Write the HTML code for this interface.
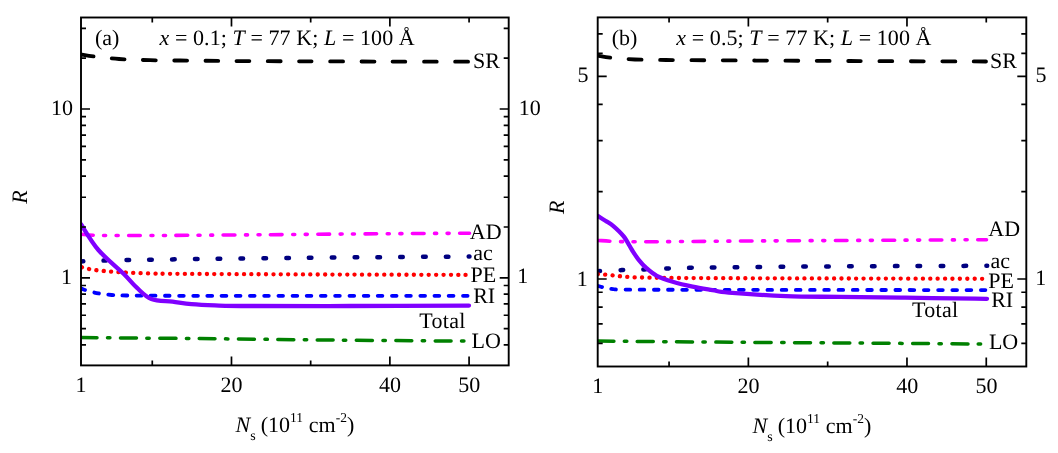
<!DOCTYPE html>
<html><head><meta charset="utf-8"><title>R vs Ns</title>
<style>
html,body{margin:0;padding:0;background:#fff;}
body{width:1058px;height:453px;overflow:hidden;font-family:"Liberation Serif",serif;}
svg{display:block;will-change:transform;}
svg text{text-rendering:geometricPrecision;font-family:"Liberation Serif",serif;font-size:22px;fill:#000;}
</style></head><body>
<svg width="1058" height="453" viewBox="0 0 1058 453">
<rect width="1058" height="453" fill="#fff"/>
<clipPath id="clipa"><rect x="81" y="17.5" width="427.7" height="347.9"/></clipPath>
<g clip-path="url(#clipa)">
<path d="M81.00,54.50 C83.33,54.85 88.67,55.85 95.00,56.60 C101.33,57.35 109.83,58.40 119.00,59.00 C128.17,59.60 138.17,59.93 150.00,60.20 C161.83,60.47 176.33,60.47 190.00,60.60 C203.67,60.73 213.67,60.88 232.00,61.00 C250.33,61.12 273.67,61.20 300.00,61.30 C326.33,61.40 361.75,61.53 390.00,61.60 C418.25,61.67 456.25,61.68 469.50,61.70" fill="none" stroke="#000" stroke-width="3.8" stroke-linecap="round" stroke-linejoin="round" stroke-dasharray="12.8 18.4"/>
<path d="M81.00,234.20 C84.17,234.40 88.50,235.18 100.00,235.40 C111.50,235.62 128.00,235.57 150.00,235.50 C172.00,235.43 198.67,235.25 232.00,235.00 C265.33,234.75 310.42,234.30 350.00,234.00 C389.58,233.70 449.58,233.33 469.50,233.20" fill="none" stroke="#ff00ff" stroke-width="3.6" stroke-linecap="round" stroke-linejoin="round" stroke-dasharray="11.6 10.55 2 10.55 2 10.54" stroke-dashoffset="-0.7"/>
<path d="M81.00,261.40 C87.50,261.20 100.17,260.60 120.00,260.20 C139.83,259.80 170.00,259.40 200.00,259.00 C230.00,258.60 266.67,258.13 300.00,257.80 C333.33,257.47 371.75,257.20 400.00,257.00 C428.25,256.80 457.92,256.67 469.50,256.60" fill="none" stroke="#000080" stroke-width="4.5" stroke-linecap="round" stroke-linejoin="round" stroke-dasharray="2.6 20.2"/>
<path d="M81.90,267.20 C83.00,267.48 86.23,268.42 88.50,268.90 C90.77,269.38 93.08,269.77 95.50,270.10 C97.92,270.43 100.53,270.65 103.00,270.90 C105.47,271.15 107.82,271.40 110.30,271.60 C112.78,271.80 115.40,271.95 117.90,272.10 C120.40,272.25 122.85,272.37 125.30,272.50 C127.75,272.63 130.15,272.78 132.60,272.90 C135.05,273.02 137.53,273.12 140.00,273.20 C142.47,273.28 144.93,273.33 147.40,273.40 C149.87,273.47 151.08,273.53 154.80,273.60 C158.52,273.67 153.83,273.70 169.70,273.80 C185.57,273.90 219.95,274.07 250.00,274.20 C280.05,274.33 313.42,274.48 350.00,274.60 C386.58,274.72 449.58,274.85 469.50,274.90" fill="none" stroke="#ff0000" stroke-width="4.3" stroke-linecap="round" stroke-linejoin="round" stroke-dasharray="0.1 7.285"/>
<path d="M81.00,288.40 C81.92,288.73 83.60,289.57 86.50,290.40 C89.40,291.23 94.20,292.63 98.40,293.40 C102.60,294.17 107.10,294.65 111.70,295.00 C116.30,295.35 111.28,295.37 126.00,295.50 C140.72,295.63 142.75,295.75 200.00,295.80 C257.25,295.85 424.58,295.80 469.50,295.80" fill="none" stroke="#0000ff" stroke-width="3.8" stroke-linecap="round" stroke-linejoin="round" stroke-dasharray="4.65 9.525" stroke-dashoffset="0.15"/>
<path d="M81.00,224.30 C83.90,228.58 91.30,241.75 98.40,250.00 C105.50,258.25 117.20,267.52 123.60,273.80 C130.00,280.08 132.17,283.50 136.80,287.70 C141.43,291.90 145.43,296.67 151.40,299.00 C157.37,301.33 165.92,300.83 172.60,301.70 C179.28,302.57 184.43,303.58 191.50,304.20 C198.57,304.82 205.25,305.10 215.00,305.40 C224.75,305.70 227.50,305.90 250.00,306.00 C272.50,306.10 313.50,306.07 350.00,306.00 C386.50,305.93 449.17,305.67 469.00,305.60" fill="none" stroke="#8000ff" stroke-width="4.3" stroke-linecap="round" stroke-linejoin="round"/>
<path d="M81.00,337.60 C100.83,337.77 157.67,338.18 200.00,338.60 C242.33,339.02 290.83,339.68 335.00,340.10 C379.17,340.52 443.33,340.93 465.00,341.10" fill="none" stroke="#008000" stroke-width="3.5" stroke-linecap="round" stroke-linejoin="round" stroke-dasharray="16 10.45 2.4 10.45" stroke-dashoffset="-0.3"/>
</g>
<rect x="81" y="17.5" width="427.7" height="347.9" fill="none" stroke="#000" stroke-width="1.9"/>
<path d="M152.28,365.4 v-5 M152.28,17.5 v5 M231.48,365.4 v-9 M231.48,17.5 v9 M310.68,365.4 v-5 M310.68,17.5 v5 M389.88,365.4 v-9 M389.88,17.5 v9 M469.08,365.4 v-9 M469.08,17.5 v5 M81,344.97 h5 M508.7,344.97 h-5 M81,328.61 h5 M508.7,328.61 h-5 M81,315.25 h5 M508.7,315.25 h-5 M81,303.95 h5 M508.7,303.95 h-5 M81,294.16 h5 M508.7,294.16 h-5 M81,285.52 h5 M508.7,285.52 h-5 M81,277.80 h9 M508.7,277.80 h-9 M81,226.99 h5 M508.7,226.99 h-5 M81,197.26 h5 M508.7,197.26 h-5 M81,176.17 h5 M508.7,176.17 h-5 M81,159.81 h5 M508.7,159.81 h-5 M81,146.45 h5 M508.7,146.45 h-5 M81,135.15 h5 M508.7,135.15 h-5 M81,125.36 h5 M508.7,125.36 h-5 M81,116.72 h5 M508.7,116.72 h-5 M81,109.00 h9 M508.7,109.00 h-9 M81,58.19 h5 M508.7,58.19 h-5 M81,28.46 h5 M508.7,28.46 h-5" fill="none" stroke="#000" stroke-width="1.7"/>
<text x="95" y="44.8" text-anchor="start" >(a)</text>
<text x="159.5" y="44.8" text-anchor="start" xml:space="preserve" letter-spacing="0.08"><tspan font-style="italic">x</tspan> = 0.1; <tspan font-style="italic">T</tspan> = 77 K; <tspan font-style="italic">L</tspan> = 100 Å</text>
<text x="73" y="115.2" text-anchor="end" >10</text>
<text x="72" y="284" text-anchor="end" >1</text>
<text x="518.8" y="115.2" text-anchor="start" >10</text>
<text x="517.3" y="283.1" text-anchor="start" >1</text>
<text x="473" y="67.6" text-anchor="start" >SR</text>
<text x="469.8" y="238.9" text-anchor="start" >AD</text>
<text x="473.2" y="260.3" text-anchor="start" >ac</text>
<text x="470.5" y="281.8" text-anchor="start" >PE</text>
<text x="473.2" y="303" text-anchor="start" >RI</text>
<text x="419.3" y="327.5" text-anchor="start" letter-spacing="0.3">Total</text>
<text x="471.6" y="348.2" text-anchor="start" >LO</text>
<text x="81" y="391.5" text-anchor="middle" >1</text>
<text x="231.6" y="391.5" text-anchor="middle" >20</text>
<text x="389.9" y="391.5" text-anchor="middle" >40</text>
<text x="469.2" y="391.5" text-anchor="middle" >50</text>
<text x="235.5" y="431.8" text-anchor="start" xml:space="preserve"><tspan font-style="italic">N</tspan><tspan font-size="14" dy="8.2">s</tspan><tspan dy="-8.2" dx="-0.5"> (10</tspan><tspan font-size="13.5" dy="-10">11</tspan><tspan dy="10" dx="0.3"> cm</tspan><tspan font-size="13.5" dy="-10">-2</tspan><tspan dy="10">)</tspan></text>
<text x="0" y="0" text-anchor="start" font-style="italic" transform="translate(27.2,203.8) rotate(-90)">R</text>
<clipPath id="clipb"><rect x="597.7" y="17.4" width="428.5999999999999" height="349.1"/></clipPath>
<g clip-path="url(#clipb)">
<path d="M597.70,55.60 C600.13,55.98 606.08,57.25 612.30,57.90 C618.52,58.55 626.05,59.15 635.00,59.50 C643.95,59.85 646.83,59.83 666.00,60.00 C685.17,60.17 719.33,60.33 750.00,60.50 C780.67,60.67 810.67,60.83 850.00,61.00 C889.33,61.17 963.33,61.42 986.00,61.50" fill="none" stroke="#000" stroke-width="3.8" stroke-linecap="round" stroke-linejoin="round" stroke-dasharray="12.8 18.55"/>
<path d="M597.70,240.40 C601.42,240.60 609.62,241.38 620.00,241.60 C630.38,241.82 638.33,241.80 660.00,241.70 C681.67,241.60 710.00,241.25 750.00,241.00 C790.00,240.75 860.58,240.42 900.00,240.20 C939.42,239.98 972.08,239.78 986.50,239.70" fill="none" stroke="#ff00ff" stroke-width="3.6" stroke-linecap="round" stroke-linejoin="round" stroke-dasharray="11.6 10.6 2 10.6 2 10.6" stroke-dashoffset="-0.7"/>
<path d="M597.70,271.20 C601.70,271.02 613.95,270.40 621.70,270.10 C629.45,269.80 636.58,269.67 644.20,269.40 C651.82,269.13 659.72,268.77 667.40,268.50 C675.08,268.23 682.68,267.98 690.30,267.80 C697.92,267.62 694.82,267.60 713.10,267.40 C731.38,267.20 768.85,266.82 800.00,266.60 C831.15,266.38 868.80,266.23 900.00,266.10 C931.20,265.97 972.67,265.85 987.20,265.80" fill="none" stroke="#000080" stroke-width="4.5" stroke-linecap="round" stroke-linejoin="round" stroke-dasharray="2.6 20.26"/>
<path d="M597.80,274.20 C598.92,274.27 602.10,274.40 604.50,274.60 C606.90,274.80 609.67,275.13 612.20,275.40 C614.73,275.67 617.23,275.95 619.70,276.20 C622.17,276.45 624.57,276.72 627.00,276.90 C629.43,277.08 631.82,277.20 634.30,277.30 C636.78,277.40 639.40,277.43 641.90,277.50 C644.40,277.57 646.82,277.65 649.30,277.70 C651.78,277.75 648.35,277.73 656.80,277.80 C665.25,277.87 676.13,278.00 700.00,278.10 C723.87,278.20 752.25,278.28 800.00,278.40 C847.75,278.52 955.42,278.73 986.50,278.80" fill="none" stroke="#ff0000" stroke-width="4.3" stroke-linecap="round" stroke-linejoin="round" stroke-dasharray="0.1 7.289"/>
<path d="M597.70,285.80 C598.92,286.13 602.45,287.25 605.00,287.80 C607.55,288.35 609.67,288.80 613.00,289.10 C616.33,289.40 610.50,289.48 625.00,289.60 C639.50,289.72 639.67,289.72 700.00,289.80 C760.33,289.88 939.17,290.05 987.00,290.10" fill="none" stroke="#0000ff" stroke-width="3.8" stroke-linecap="round" stroke-linejoin="round" stroke-dasharray="4.65 9.55" stroke-dashoffset="0.15"/>
<path d="M597.70,215.90 C598.98,216.72 602.83,219.15 605.40,220.80 C607.97,222.45 610.05,223.20 613.10,225.80 C616.15,228.40 620.55,232.37 623.70,236.40 C626.85,240.43 629.57,246.18 632.00,250.00 C634.43,253.82 635.93,256.32 638.30,259.30 C640.67,262.28 643.12,265.15 646.20,267.90 C649.28,270.65 652.38,273.48 656.80,275.80 C661.22,278.12 666.73,279.98 672.70,281.80 C678.67,283.62 685.97,285.32 692.60,286.70 C699.23,288.08 706.48,289.12 712.50,290.10 C718.52,291.08 716.45,291.60 728.70,292.60 C740.95,293.60 767.45,295.38 786.00,296.10 C804.55,296.82 820.17,296.63 840.00,296.90 C859.83,297.17 882.50,297.42 905.00,297.70 C927.50,297.98 961.33,298.42 975.00,298.60 C988.67,298.78 985.00,298.77 987.00,298.80" fill="none" stroke="#8000ff" stroke-width="4.3" stroke-linecap="round" stroke-linejoin="round"/>
<path d="M597.70,341.00 C614.75,341.17 657.95,341.67 700.00,342.00 C742.05,342.33 803.00,342.67 850.00,343.00 C897.00,343.33 960.00,343.83 982.00,344.00" fill="none" stroke="#008000" stroke-width="3.5" stroke-linecap="round" stroke-linejoin="round" stroke-dasharray="16 10.45 2.4 10.45" stroke-dashoffset="-0.3"/>
</g>
<rect x="597.7" y="17.4" width="428.5999999999999" height="349.1" fill="none" stroke="#000" stroke-width="1.9"/>
<path d="M669.07,366.5 v-5 M669.07,17.4 v5 M748.37,366.5 v-9 M748.37,17.4 v9 M827.67,366.5 v-5 M827.67,17.4 v5 M906.97,366.5 v-9 M906.97,17.4 v9 M986.27,366.5 v-9 M986.27,17.4 v5 M597.7,343.34 h5 M1026.3,343.34 h-5 M597.7,323.92 h5 M1026.3,323.92 h-5 M597.7,307.10 h5 M1026.3,307.10 h-5 M597.7,292.27 h5 M1026.3,292.27 h-5 M597.7,279.00 h9 M1026.3,279.00 h-9 M597.7,191.70 h5 M1026.3,191.70 h-5 M597.7,140.63 h5 M1026.3,140.63 h-5 M597.7,104.40 h5 M1026.3,104.40 h-5 M597.7,76.30 h9 M1026.3,76.30 h-9 M597.7,53.34 h5 M1026.3,53.34 h-5 M597.7,33.92 h5 M1026.3,33.92 h-5" fill="none" stroke="#000" stroke-width="1.7"/>
<text x="611.8" y="44.6" text-anchor="start" >(b)</text>
<text x="676.3" y="44.6" text-anchor="start" xml:space="preserve" letter-spacing="0.08"><tspan font-style="italic">x</tspan> = 0.5; <tspan font-style="italic">T</tspan> = 77 K; <tspan font-style="italic">L</tspan> = 100 Å</text>
<text x="588.5" y="82.4" text-anchor="end" >5</text>
<text x="587.7" y="285.5" text-anchor="end" >1</text>
<text x="1035.6" y="82.4" text-anchor="start" >5</text>
<text x="1035.3" y="285.1" text-anchor="start" >1</text>
<text x="989.9" y="67.6" text-anchor="start" >SR</text>
<text x="988.3" y="236.2" text-anchor="start" >AD</text>
<text x="990.5" y="268.3" text-anchor="start" >ac</text>
<text x="988.2" y="287.5" text-anchor="start" >PE</text>
<text x="991.2" y="306.7" text-anchor="start" >RI</text>
<text x="912" y="317" text-anchor="start" letter-spacing="0.3">Total</text>
<text x="988.9" y="349.3" text-anchor="start" >LO</text>
<text x="597.7" y="392.7" text-anchor="middle" >1</text>
<text x="748.5" y="392.7" text-anchor="middle" >20</text>
<text x="907.3" y="392.7" text-anchor="middle" >40</text>
<text x="986.5" y="392.7" text-anchor="middle" >50</text>
<text x="752.5" y="432.8" text-anchor="start" xml:space="preserve"><tspan font-style="italic">N</tspan><tspan font-size="14" dy="8.2">s</tspan><tspan dy="-8.2" dx="-0.5"> (10</tspan><tspan font-size="13.5" dy="-10">11</tspan><tspan dy="10" dx="0.3"> cm</tspan><tspan font-size="13.5" dy="-10">-2</tspan><tspan dy="10">)</tspan></text>
<text x="0" y="0" text-anchor="start" font-style="italic" transform="translate(564.1,213.9) rotate(-90)">R</text>
</svg>
</body></html>
